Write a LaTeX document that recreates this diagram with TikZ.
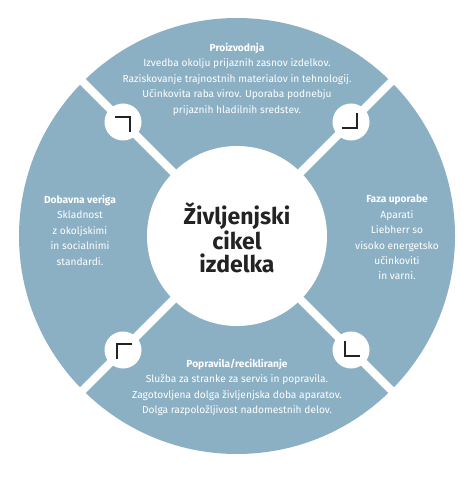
\documentclass[tikz,border=0pt]{standalone}
\usepackage{fontspec}
\setmainfont{Fira Sans}
\definecolor{ring}{RGB}{139,176,196}
\definecolor{ink}{RGB}{35,35,35}
\begin{document}
\begin{tikzpicture}[x=1pt,y=-1pt,
  phase/.style={text=white, align=center, font=\fontsize{10.2}{15.4}\selectfont, inner sep=0pt, anchor=north},
  gapline/.style={white, line width=8pt},
  knob/.style={circle, fill=white, minimum size=37pt, inner sep=0pt},
  chev/.style={line width=2.2pt, draw=ink, line cap=butt, line join=miter}]
\useasboundingbox (0,0) rectangle (474,478);
\fill[ring] (237,236) circle (218);
\foreach \a in {45,135,225,315} \draw[gapline] (237,236) -- ++(\a:235);
\node[circle, fill=white, minimum size=180pt, inner sep=0pt] (hub) at (237,236) {};
\node[text=ink, align=center, font=\fontsize{23}{23.5}\selectfont\bfseries, inner sep=0pt] (title) at (237,238) {Življenjski\\cikel\\izdelka};
\node[knob] (k1) at (123,122) {};
\node[knob] (k2) at (351,122) {};
\node[knob] (k3) at (351,350) {};
\node[knob] (k4) at (123,350) {};
\draw[chev] ([shift={(-8,-5)}]k1.center) -- ++(15,0) -- ++(0,15);
\draw[chev] ([shift={(-9,6)}]k2.center) -- ++(15,0) -- ++(0,-15);
\draw[chev] ([shift={(-6,-9)}]k3.center) -- ++(0,15) -- ++(15,0);
\draw[chev] ([shift={(9,-6)}]k4.center) -- ++(-15,0) -- ++(0,15);
\node[phase] (prod) at (237,43) {\textbf{Proizvodnja}\\Izvedba okolju prijaznih zasnov izdelkov.\\Raziskovanje trajnostnih materialov in tehnologij.\\Učinkovita raba virov. Uporaba podnebju\\prijaznih hladilnih sredstev.};
\node[phase] (supply) at (80,195) {\textbf{Dobavna veriga}\\Skladnost\\z okoljskimi\\in socialnimi\\standardi.};
\node[phase] (use) at (397,195) {\textbf{Faza uporabe}\\Aparati\\Liebherr so\\visoko energetsko\\učinkoviti\\in varni.};
\node[phase] (repair) at (237,359) {\textbf{Popravila/recikliranje}\\Služba za stranke za servis in popravila.\\Zagotovljena dolga življenjska doba aparatov.\\Dolga razpoložljivost nadomestnih delov.};
\end{tikzpicture}
\end{document}
